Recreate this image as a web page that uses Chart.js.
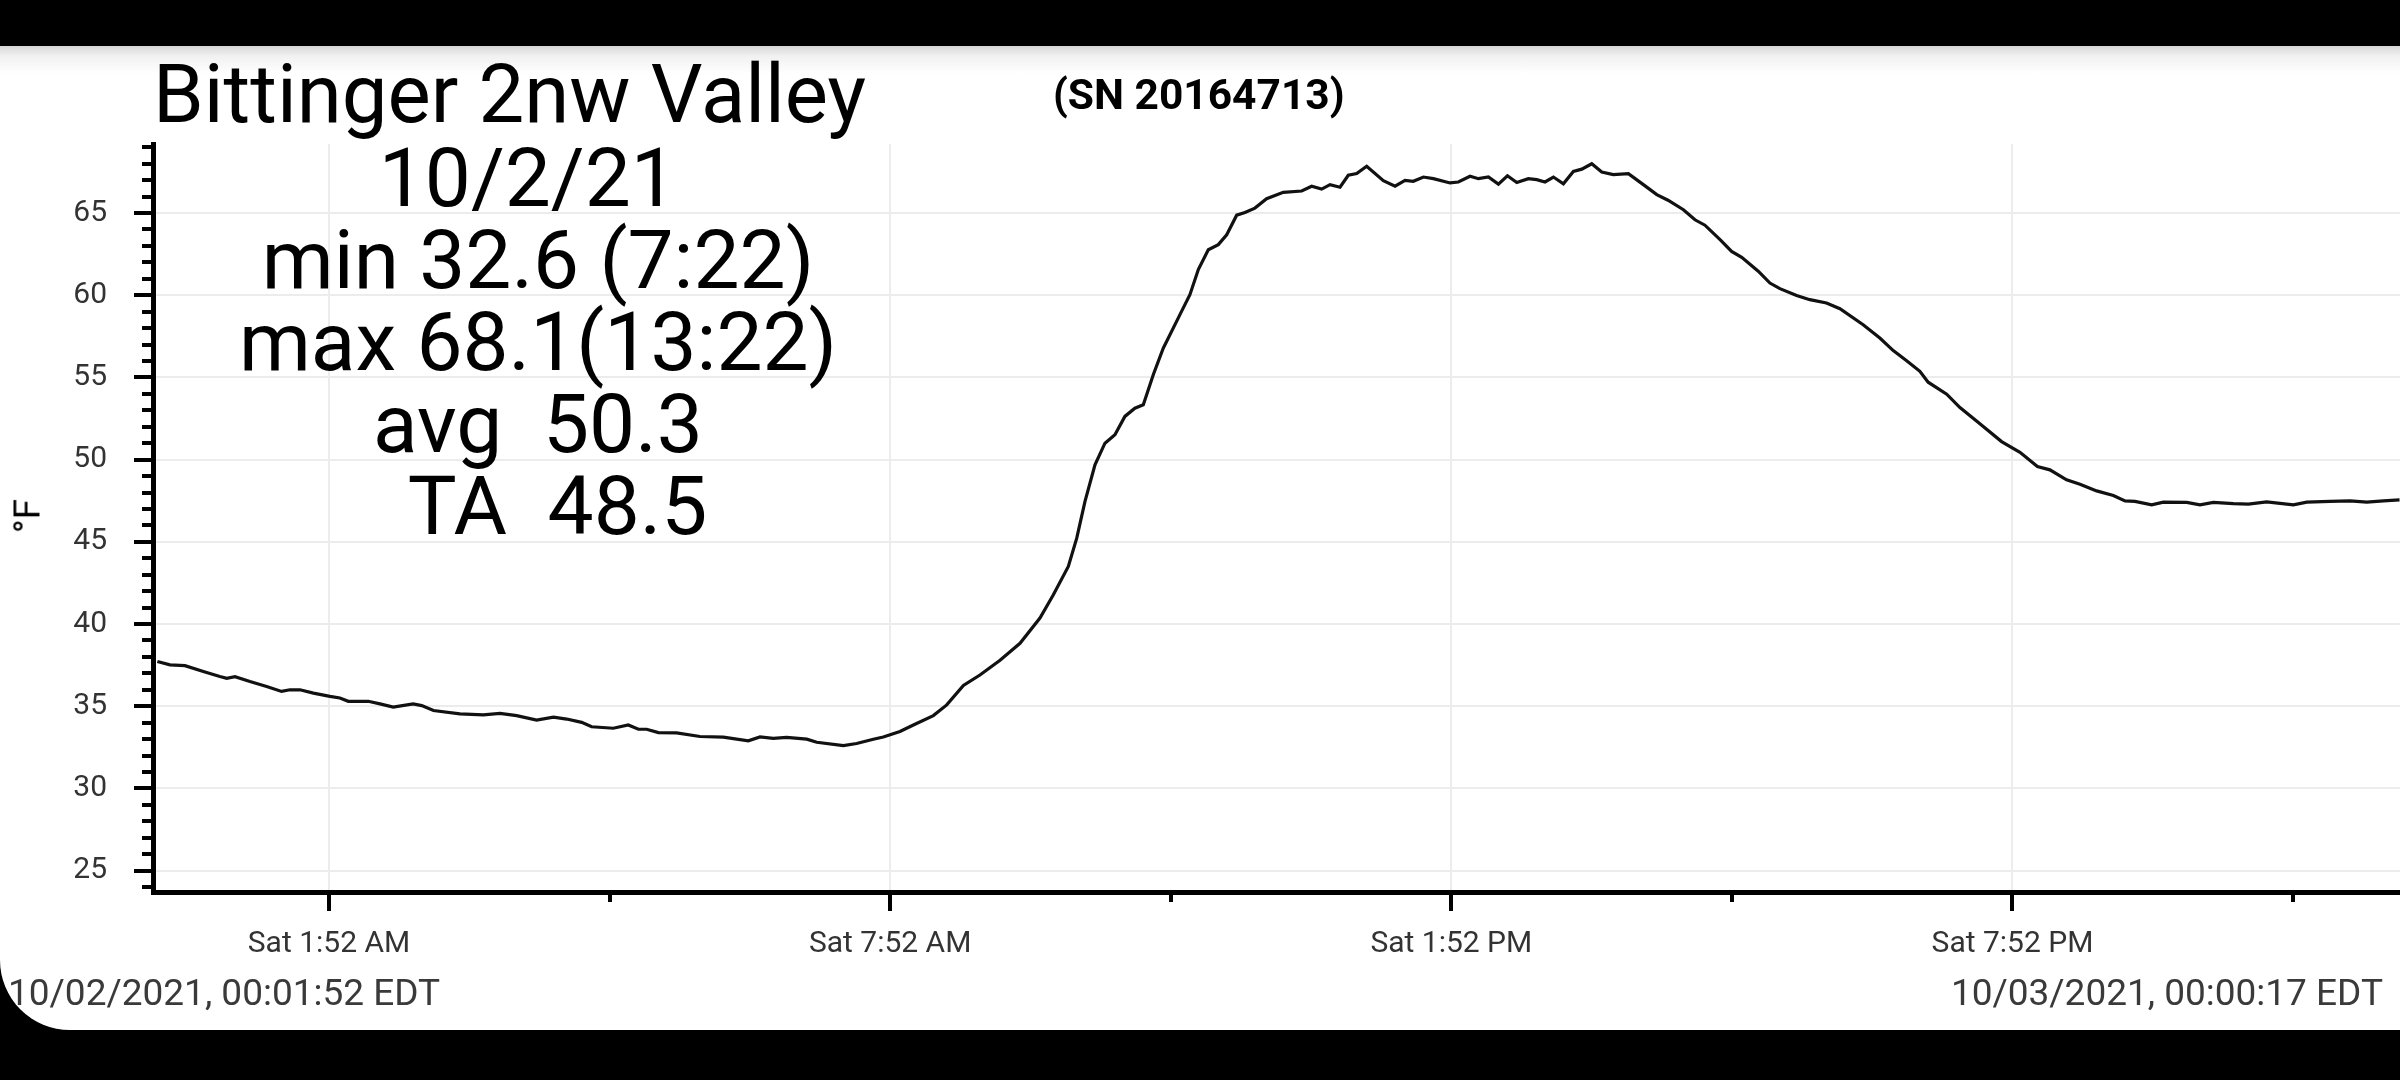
<!DOCTYPE html>
<html>
<head>
<meta charset="utf-8">
<script src="https://cdn.jsdelivr.net/npm/chart.js@4.4.0/dist/chart.umd.min.js"></script>
<style>
html, body { margin: 0; padding: 0; width: 2400px; height: 1080px; overflow: hidden; background: #000; font-family: Roboto, sans-serif; }
#panel { position: absolute; left: 0; top: 46px; width: 2400px; height: 984px; background: linear-gradient(#d6d6d6 0px, #f1f1f1 10px, #fff 28px); border-bottom-left-radius: 70px; }
#chart { position: absolute; left: 0; top: 0; }
.txt { position: absolute; white-space: pre; color: #000; line-height: 1; }
</style>
</head>
<body>
<div id="panel"></div>
<canvas id="chart" width="2400" height="1080"></canvas>

<div class="txt" style="left:153px; top:54px; font-size:81.5px;">Bittinger 2nw Valley</div>
<div class="txt" style="left:1053px; top:74px; font-size:42.5px; font-weight:bold;">(SN 20164713)</div>
<div class="txt" style="left:238px; top:137px; width:600px; text-align:center; font-size:82px; line-height:82px;">10/2/21 
min 32.6 (7:22)
max 68.1(13:22)
avg  50.3
  TA  48.5</div>
<div class="txt" style="left:27px; top:516px; font-size:37px; transform: translate(-50%, -50%) rotate(-90deg);">°F</div>
<div class="txt" style="left:8px; top:974px; font-size:37px; color:#3a3a3a;">10/02/2021, 00:01:52 EDT</div>
<div class="txt" style="right:17px; top:974px; font-size:37px; color:#3a3a3a;">10/03/2021, 00:00:17 EDT</div>

<script>
// minutes after midnight, Sat 10/02/2021
const minutes = [
    1.9, 10, 19.6, 31.4, 42, 46.4, 51.7, 61.3, 72, 81.6, 87, 93.4, 102, 112.6, 119, 124.4, 137.2, 144.7,
    153.2, 166, 171.5, 179, 196, 211, 221.7, 232.4, 245.2, 256, 264.5, 274.1, 280.5, 294.4, 304, 310.5,
    315.8, 323.3, 335, 350, 365, 381, 388.5, 397, 405.6, 418.5, 424.9, 442, 450.5, 461.2, 467.6, 478.3,
    486.9, 499.7, 508.3, 519, 529.6, 542.5, 555.3, 568.1, 576.7, 586.3, 591.7, 597, 603.4, 609.8, 616.2,
    622.6, 629, 634.4, 640.8, 647.2, 657.9, 664.3, 669.7, 676.1, 682.5, 687.9, 694.3, 699.6, 706, 713.5,
    724.2, 736, 742.4, 748.8, 754.2, 760.6, 765.9, 771.3, 777.7, 788.4, 795.9, 802.3, 807.6, 814.1, 820.5,
    831.2, 836.5, 844, 849.4, 855.8, 862.2, 868, 874, 881.4, 886.8, 892.1, 897.5, 903.9, 910.3, 915.7,
    922.1, 928.5, 935.9, 945.6, 955.2, 963.8, 971, 980.9, 988.3, 994.7, 1004.4, 1011.8, 1018.3, 1028.9,
    1036.4, 1042.8, 1053.5, 1062, 1072.7, 1081.3, 1096.2, 1106.9, 1115.5, 1124.1, 1132.6, 1137.9, 1149.8,
    1158.3, 1171.1, 1185, 1196.8, 1208, 1216, 1226.7, 1235.3, 1246, 1256.7, 1264.2, 1270.6, 1281.3, 1288.8,
    1303.8, 1312.3, 1320.9, 1333.7, 1343.3, 1355.1, 1372.2, 1380.8, 1395.7, 1408.6, 1419.3, 1430, 1440.3
];
const tempF = [
    37.72, 37.52, 37.47, 37.11, 36.81, 36.7, 36.8, 36.5, 36.2, 35.9, 36.0, 36.0, 35.8, 35.6, 35.5, 35.3, 35.3, 35.14,
    34.95, 35.14, 35.04, 34.74, 34.53, 34.47, 34.57, 34.43, 34.16, 34.34, 34.22, 34.02, 33.75, 33.66, 33.86, 33.6,
    33.6, 33.4, 33.38, 33.16, 33.12, 32.9, 33.13, 33.05, 33.1, 33.0, 32.81, 32.6, 32.73, 32.99, 33.13, 33.46,
    33.86, 34.43, 35.08, 36.26, 36.9, 37.8, 38.83, 40.36, 41.78, 43.5, 45.22, 47.46, 49.69, 51.0, 51.51,
    52.63, 53.13, 53.34, 55.16, 56.78, 58.82, 60.03, 61.56, 62.77, 63.08, 63.68, 64.87, 65.03, 65.3, 65.87,
    66.26, 66.34, 66.63, 66.46, 66.73, 66.57, 67.3, 67.4, 67.85, 66.97, 66.63, 66.99, 66.93, 67.19, 67.09,
    66.83, 66.89, 67.24, 67.09, 67.19, 66.76, 67.27, 66.86, 67.09, 67.03, 66.89, 67.19, 66.78, 67.53, 67.67,
    68.0, 67.5, 67.34, 67.4, 66.73, 66.12, 65.78, 65.2, 64.59, 64.26, 63.38, 62.67, 62.31, 61.46,
    60.74, 60.4, 59.98, 59.73, 59.53, 59.18, 58.21, 57.4, 56.63, 56.02, 55.37, 54.71, 53.98,
    53.17, 52.18, 51.1, 50.45, 49.58, 49.38, 48.77, 48.5, 48.1, 47.82, 47.49, 47.46, 47.25, 47.41,
    47.4, 47.25, 47.4, 47.32, 47.3, 47.43, 47.25, 47.41, 47.46, 47.49, 47.41, 47.49, 47.55
];

const xTickMinutes = [112, 292, 472, 652, 832, 1012, 1192, 1372];
const xTickLabels = ['Sat 1:52 AM', '', 'Sat 7:52 AM', '', 'Sat 1:52 PM', '', 'Sat 7:52 PM', ''];
const yLabelStep = 5;

// tick marks: long ones at labelled values, short ones between
const tickMarks = {
    id: 'tickMarks',
    afterDraw(chart) {
        const ctx = chart.ctx;
        const area = chart.chartArea;
        const xs = chart.scales.x;
        const ys = chart.scales.y;
        ctx.save();
        ctx.fillStyle = '#000';
        ys.ticks.forEach(t => {
            const y = Math.round(ys.getPixelForValue(t.value));
            const len = t.value % yLabelStep === 0 ? 19 : 11;
            ctx.fillRect(area.left - len, y - 2, len, 4);
        });
        xs.ticks.forEach((t, i) => {
            const x = Math.round(xs.getPixelForValue(t.value));
            const len = xTickLabels[i] ? 19 : 10;
            ctx.fillRect(x - 2, area.bottom, 4, len);
        });
        ctx.restore();
    }
};

const ctx = document.getElementById('chart').getContext('2d');
new Chart(ctx, {
    type: 'line',
    data: {
        datasets: [{
            data: minutes.map((m, i) => ({ x: m, y: tempF[i] })),
            borderColor: '#111',
            borderWidth: 3.2,
            pointRadius: 0,
            tension: 0,
            fill: false
        }]
    },
    options: {
        responsive: false,
        animation: false,
        layout: { padding: { top: 144, left: 0, right: 0, bottom: 0 } },
        plugins: { legend: { display: false }, tooltip: { enabled: false } },
        scales: {
            x: {
                type: 'linear',
                min: -0.9,
                max: 1440.6,
                afterBuildTicks: scale => {
                    scale.ticks = xTickMinutes.map(v => ({ value: v }));
                },
                afterFit: scale => { scale.height = 188; },
                ticks: {
                    autoSkip: false,
                    maxRotation: 0,
                    padding: 34,
                    color: '#333',
                    font: { family: 'Roboto', size: 30 },
                    callback: (value, index) => xTickLabels[index]
                },
                grid: {
                    drawTicks: false,
                    lineWidth: 2,
                    color: c => (xTickLabels[c.index] ? '#ececec' : 'rgba(0,0,0,0)')
                },
                border: { display: true, color: '#000', width: 5 }
            },
            y: {
                min: 23.7,
                max: 69.2,
                afterBuildTicks: scale => {
                    const ticks = [];
                    for (let v = Math.ceil(scale.min); v <= scale.max; v++) ticks.push({ value: v });
                    scale.ticks = ticks;
                },
                afterFit: scale => { scale.width = 153; },
                ticks: {
                    autoSkip: false,
                    padding: 46,
                    color: '#333',
                    font: { family: 'Roboto', size: 30 },
                    callback: value => (value % yLabelStep === 0 ? String(value) : '')
                },
                grid: {
                    drawTicks: false,
                    lineWidth: 2,
                    color: c => (c.tick && c.tick.value % yLabelStep === 0 ? '#ececec' : 'rgba(0,0,0,0)')
                },
                border: { display: true, color: '#000', width: 5 }
            }
        }
    },
    plugins: [tickMarks]
});
</script>
</body>
</html>
